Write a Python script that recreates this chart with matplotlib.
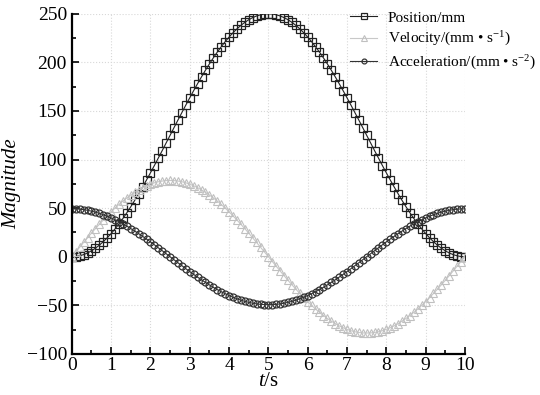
import numpy as np
import matplotlib
matplotlib.use("Agg")
import matplotlib.pyplot as plt
from matplotlib.ticker import MultipleLocator

plt.rcParams['font.family'] = ['Liberation Serif', 'DejaVu Serif']
plt.rcParams['mathtext.fontset'] = 'custom'
plt.rcParams['mathtext.rm'] = 'Liberation Serif'
plt.rcParams['mathtext.it'] = 'Liberation Serif:italic'

# time samples every 0.1 s
t = np.round(np.arange(0, 101) * 0.1, 1)

position = [
    0.0, 0.2, 1.0, 2.2, 3.9, 6.1, 8.8, 11.9, 15.5, 19.5,
    23.9, 28.7, 33.9, 39.4, 45.3, 51.5, 58.0, 64.8, 71.8, 79.0,
    86.4, 93.9, 101.6, 109.3, 117.2, 125.0, 132.9, 140.7, 148.4, 156.1,
    163.6, 171.0, 178.2, 185.2, 192.0, 198.5, 204.7, 210.6, 216.1, 221.3,
    226.1, 230.5, 234.5, 238.1, 241.2, 243.9, 246.1, 247.8, 249.0, 249.8,
    250.0,
    249.8, 249.0, 247.8, 246.1, 243.9, 241.2, 238.1, 234.5, 230.5, 226.1,
    221.3, 216.1, 210.6, 204.7, 198.5, 192.0, 185.2, 178.2, 171.0, 163.6,
    156.1, 148.4, 140.7, 132.9, 125.0, 117.2, 109.3, 101.6, 93.9, 86.4,
    79.0, 71.8, 64.8, 58.0, 51.5, 45.3, 39.4, 33.9, 28.7, 23.9,
    19.5, 15.5, 11.9, 8.8, 6.1, 3.9, 2.2, 1.0, 0.2, 0.0,
]

velocity = [
    0.0, 4.9, 9.8, 14.7, 19.5, 24.3, 28.9, 33.4, 37.8, 42.1,
    46.2, 50.1, 53.8, 57.3, 60.5, 63.5, 66.3, 68.8, 71.1, 73.0,
    74.7, 76.1, 77.2, 77.9, 78.4, 78.5, 78.4, 77.9, 77.2, 76.1,
    74.7, 73.0, 71.1, 68.8, 66.3, 63.5, 60.5, 57.3, 53.8, 50.1,
    46.2, 42.1, 37.8, 33.4, 28.9, 24.3, 19.5, 14.7, 9.8, 4.9,
    0.0,
    -4.9, -9.8, -14.7, -19.5, -24.3, -28.9, -33.4, -37.8, -42.1, -46.2,
    -50.1, -53.8, -57.3, -60.5, -63.5, -66.3, -68.8, -71.1, -73.0, -74.7,
    -76.1, -77.2, -77.9, -78.4, -78.5, -78.4, -77.9, -77.2, -76.1, -74.7,
    -73.0, -71.1, -68.8, -66.3, -63.5, -60.5, -57.3, -53.8, -50.1, -46.2,
    -42.1, -37.8, -33.4, -28.9, -24.3, -19.5, -14.7, -9.8, -4.9, 0.0,
]

acceleration = [
    49.3, 49.2, 49.0, 48.5, 47.8, 46.9, 45.9, 44.7, 43.2, 41.7,
    39.9, 38.0, 36.0, 33.8, 31.5, 29.0, 26.4, 23.8, 21.0, 18.2,
    15.3, 12.3, 9.2, 6.2, 3.1, 0.0, -3.1, -6.2, -9.2, -12.3,
    -15.3, -18.2, -21.0, -23.8, -26.4, -29.0, -31.5, -33.8, -36.0, -38.0,
    -39.9, -41.7, -43.2, -44.7, -45.9, -46.9, -47.8, -48.5, -49.0, -49.2,
    -49.3,
    -49.2, -49.0, -48.5, -47.8, -46.9, -45.9, -44.7, -43.2, -41.7, -39.9,
    -38.0, -36.0, -33.8, -31.5, -29.0, -26.4, -23.8, -21.0, -18.2, -15.3,
    -12.3, -9.2, -6.2, -3.1, 0.0, 3.1, 6.2, 9.2, 12.3, 15.3,
    18.2, 21.0, 23.8, 26.4, 29.0, 31.5, 33.8, 36.0, 38.0, 39.9,
    41.7, 43.2, 44.7, 45.9, 46.9, 47.8, 48.5, 49.0, 49.2, 49.3,
]

fig = plt.figure(figsize=(5.4, 3.95), dpi=100)
ax = fig.add_axes([0.133, 0.104, 0.728, 0.861])

ax.plot(t, position, color='#222222', lw=0.8, marker='s', ms=6,
        mfc='none', mec='#222222', mew=0.9, label='Position/mm')
ax.plot(t, velocity, color='#c8c8c8', lw=0.8, marker='^', ms=5.5,
        mfc='none', mec='#c0c0c0', mew=0.8, label='Velocity/(mm • s$^{-1}$)')
ax.plot(t, acceleration, color='#333333', lw=0.8, marker='o', ms=5,
        mfc='none', mec='#333333', mew=0.9, label='Acceleration/(mm • s$^{-2}$)')

ax.set_xlim(0, 10)
ax.set_ylim(-100, 250)
ax.xaxis.set_major_locator(MultipleLocator(1))
ax.xaxis.set_minor_locator(MultipleLocator(0.5))
ax.yaxis.set_major_locator(MultipleLocator(50))
ax.yaxis.set_minor_locator(MultipleLocator(25))
ax.tick_params(which='both', direction='in', labelsize=14, width=1.2)
ax.tick_params(which='major', length=5)
ax.tick_params(which='minor', length=3)
ax.tick_params(axis='x', pad=2)
ax.grid(True, which='major', color='#d8d8d8', ls=':', lw=0.8)

for s in ['top', 'right']:
    ax.spines[s].set_visible(False)
for s in ['left', 'bottom']:
    ax.spines[s].set_linewidth(1.6)

ax.set_xlabel('$t$/s', fontsize=15, labelpad=-1)
ax.set_ylabel('Magnitude', fontsize=15, style='italic', labelpad=4)

fig.legend(loc='upper right', bbox_to_anchor=(0.998, 0.98), frameon=False,
           fontsize=11, handlelength=1.75, handletextpad=0.7, labelspacing=0.35,
           markerscale=0.7, borderaxespad=0, borderpad=0.2)

plt.savefig('out.png', dpi=100)
